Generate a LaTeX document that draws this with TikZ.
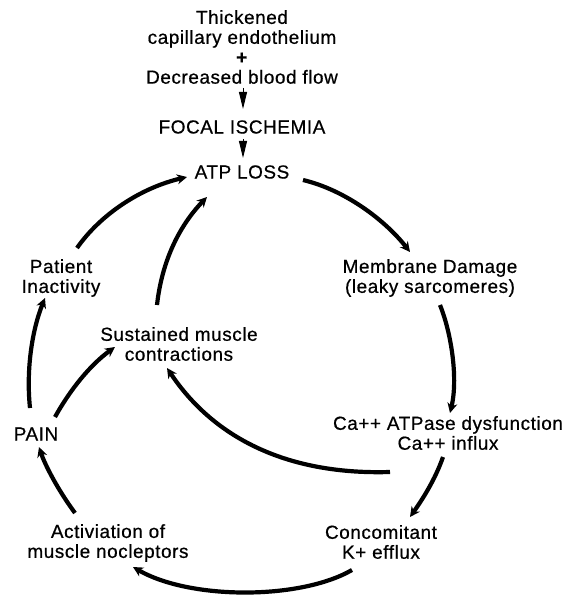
\documentclass[tikz,border=0pt]{standalone}
\usepackage{fontspec}
\setmainfont[LetterSpace=3,FakeBold=0.6]{Liberation Sans}
\usetikzlibrary{arrows.meta,calc}
\begin{document}
\begin{tikzpicture}[x=1bp,y=-1bp,
  lbl/.style={align=center,inner sep=0pt,font=\fontsize{19}{20}\selectfont},
  cyc/.style={line width=4.2bp,-{Stealth[length=10bp,width=10bp]}},
  down/.style={line width=1bp,-{Triangle[length=17bp,width=8bp]}}]
\useasboundingbox (0,0) rectangle (567,596);
\node[lbl] (top) at (242,47) {Thickened\\capillary endothelium\\\textbf{+}\\Decreased blood flow};
\node[lbl] (focal) at (242,127) {FOCAL ISCHEMIA};
\node[lbl] (atp) at (242,172) {ATP LOSS};
\node[lbl] (mem) at (430,278) {Membrane Damage\\(leaky sarcomeres)};
\node[lbl] (ca) at (448,433) {Ca++ ATPase dysfunction\\Ca++ influx};
\node[lbl] (conc) at (381,542) {Concomitant\\K+ efflux};
\node[lbl] (act) at (108,543) {Activiation of\\muscle nocleptors};
\node[lbl] (pain) at (36,434) {PAIN};
\node[lbl] (pat) at (61,278) {Patient\\Inactivity};
\node[lbl] (sus) at (179,344) {Sustained muscle\\contractions};

\draw[down] ($(top)+(1,41)$) -- ($(focal)+(1,-18)$);
\draw[down] ($(focal)+(1,12)$) -- ($(atp)+(1,-14)$);

\draw[cyc] ($(atp)+(61,8)$) .. controls (345,190) and (385,220) .. ($(mem)+(-20,-26)$);
\draw[cyc] ($(mem)+(10,27)$) .. controls (452,335) and (458,380) .. ($(ca)+(2,-20)$);
\draw[cyc] ($(ca)+(-5,24)$) .. controls (435,480) and (422,500) .. ($(conc)+(29,-25)$);
\draw[cyc] ($(conc)+(-29,28)$) .. controls (300,600) and (190,600) .. ($(act)+(25,24)$);
\draw[cyc] ($(act)+(-33,-30)$) .. controls (58,490) and (45,465) .. ($(pain)+(3,13)$);
\draw[cyc] ($(pain)+(-6,-26)$) .. controls (26,370) and (32,330) .. ($(pat)+(-16,20)$);
\draw[cyc] ($(pain)+(19,-17)$) .. controls (70,390) and (90,365) .. ($(sus)+(-64,3)$);
\draw[cyc] ($(pat)+(16,-30)$) .. controls (100,215) and (140,188) .. ($(atp)+(-55,5)$);
\draw[cyc] ($(sus)+(-22,-39)$) .. controls (162,260) and (180,225) .. ($(atp)+(-35,25)$);
\draw[cyc] ($(ca)+(-58,39)$) .. controls (290,475) and (215,440) .. ($(sus)+(-12,24)$);
\end{tikzpicture}
\end{document}
